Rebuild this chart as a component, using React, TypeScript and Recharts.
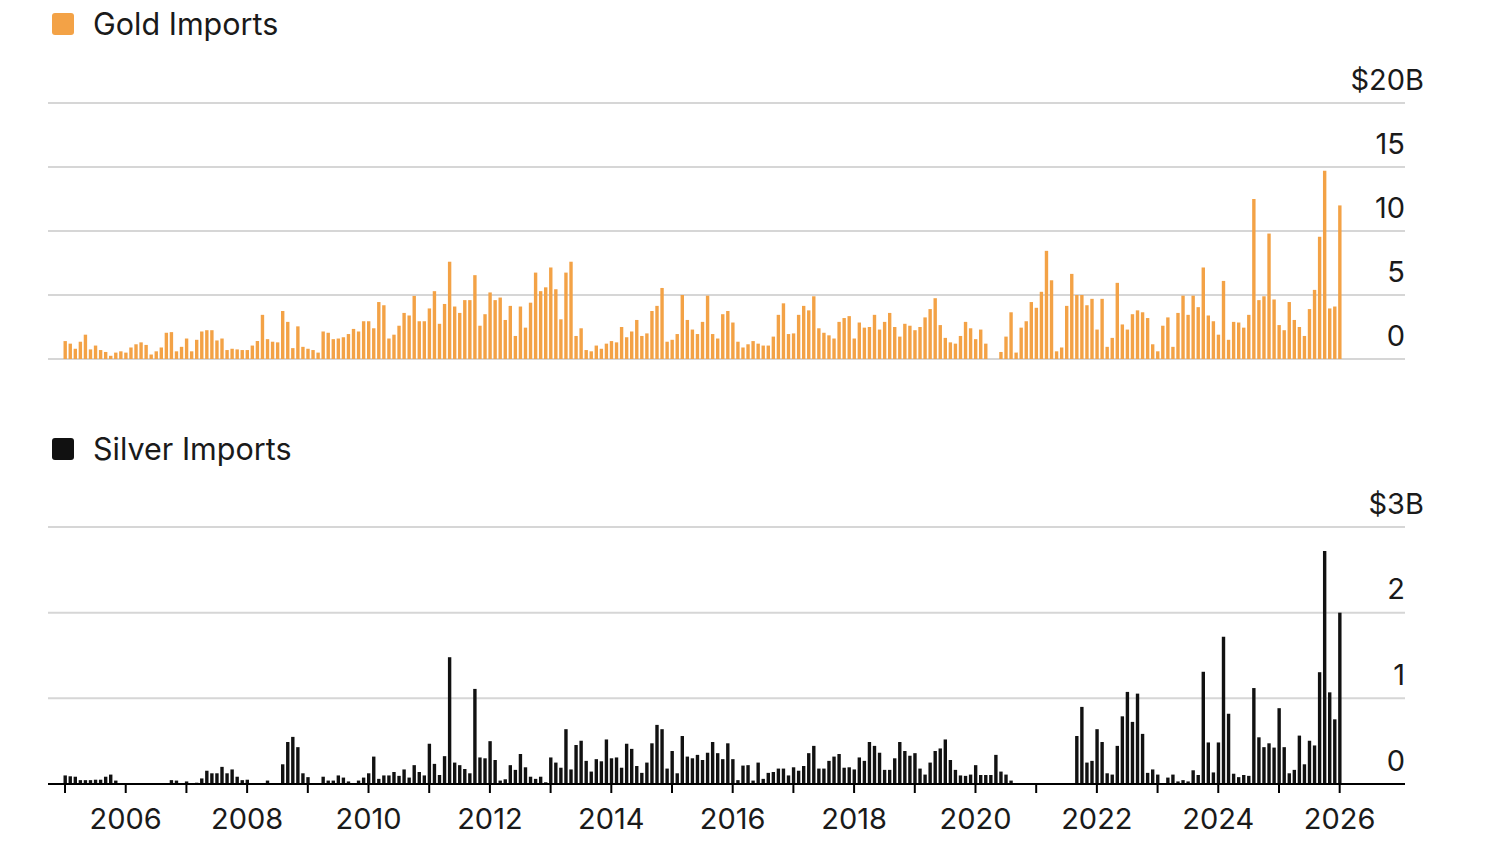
import { Bar, BarChart, CartesianGrid, XAxis, YAxis } from 'recharts';

const FONT = 'Inter, "Noto Sans", sans-serif';
const INK = '#1a1a1a';
const GOLD = '#f3a246';
const SILVER = '#111111';
const GRID = '#d6d6d6';

const years = [2005, 2006, 2007, 2008, 2009, 2010, 2011, 2012, 2013, 2014, 2015, 2016, 2017, 2018, 2019, 2020, 2021, 2022, 2023, 2024, 2025, 2026];
const monthNums = ['01', '02', '03', '04', '05', '06', '07', '08', '09', '10', '11', '12'];

// monthly imports, $ billions, Jan 2005 .. Jan 2026
const goldImports = [
  1.4, 1.2, 0.8, 1.35, 1.9, 0.75, 1.05, 0.7, 0.55, 0.25, 0.5, 0.6,
  0.5, 0.9, 1.15, 1.3, 1.1, 0.35, 0.6, 0.9, 2.05, 2.1, 0.6, 0.95,
  1.6, 0.6, 1.5, 2.15, 2.25, 2.25, 1.45, 1.6, 0.7, 0.8, 0.75, 0.7,
  0.7, 1.05, 1.4, 3.45, 1.55, 1.35, 1.3, 3.75, 2.9, 0.85, 2.55, 0.95,
  0.8, 0.7, 0.5, 2.15, 2.05, 1.55, 1.6, 1.7, 1.95, 2.35, 2.15, 2.95,
  2.95, 2.4, 4.45, 4.2, 1.6, 1.9, 2.6, 3.6, 3.4, 4.93, 2.95, 2.95,
  3.95, 5.3, 2.75, 4.3, 7.6, 4.1, 3.6, 4.6, 4.6, 6.55, 2.6, 3.5,
  5.2, 4.6, 4.8, 3.05, 4.15, 1.8, 4.1, 2.45, 4.4, 6.75, 5.3, 5.6,
  7.15, 5.45, 3.1, 6.75, 7.6, 1.8, 2.4, 0.7, 0.6, 1.05, 0.8, 1.2,
  1.4, 1.3, 2.5, 1.7, 2.15, 3.05, 1.8, 2.0, 3.75, 4.15, 5.55, 1.35,
  1.5, 1.95, 5.0, 3.05, 2.3, 1.95, 2.9, 4.95, 1.95, 1.6, 3.5, 3.75,
  2.85, 1.35, 0.9, 1.15, 1.4, 1.2, 1.05, 1.05, 1.75, 3.45, 4.35, 1.95,
  2.0, 3.45, 4.15, 3.8, 4.9, 2.4, 2.05, 1.85, 1.6, 2.9, 3.2, 3.35,
  1.6, 2.85, 2.45, 2.5, 3.45, 2.3, 2.9, 3.6, 2.5, 1.75, 2.75, 2.6,
  2.25, 2.5, 3.25, 3.9, 4.75, 2.65, 1.65, 1.3, 1.2, 1.8, 2.9, 2.4,
  1.55, 2.3, 1.2, 0, 0, 0.55, 1.75, 3.65, 0.5, 2.45, 2.95, 4.45,
  4.0, 5.25, 8.45, 6.15, 0.6, 0.9, 4.15, 6.65, 5.0, 5.0, 4.2, 4.7,
  2.3, 4.7, 0.95, 1.65, 5.95, 2.7, 2.3, 3.5, 3.8, 3.65, 3.2, 1.15,
  0.6, 2.6, 3.25, 0.95, 3.6, 4.95, 3.45, 4.95, 4.05, 7.15, 3.4, 2.95,
  1.9, 6.1, 1.5, 2.9, 2.85, 2.45, 3.45, 12.5, 4.6, 4.9, 9.8, 4.65,
  2.65, 2.25, 4.45, 3.05, 2.5, 1.8, 3.9, 5.4, 9.55, 14.7, 3.95, 4.1,
  12.0,
];

const silverImports = [
  0.1, 0.09, 0.085, 0.045, 0.045, 0.045, 0.05, 0.05, 0.085, 0.11, 0.04, 0,
  0, 0, 0, 0, 0, 0, 0, 0, 0.01, 0.045, 0.04, 0,
  0.03, 0, 0.015, 0.065, 0.155, 0.125, 0.125, 0.2, 0.125, 0.17, 0.085, 0.045,
  0.05, 0, 0, 0, 0.04, 0, 0, 0.23, 0.49, 0.55, 0.43, 0.125,
  0.08, 0, 0, 0.085, 0.04, 0.04, 0.1, 0.075, 0.03, 0, 0.04, 0.075,
  0.125, 0.32, 0.06, 0.1, 0.1, 0.14, 0.095, 0.17, 0.075, 0.22, 0.14, 0.1,
  0.47, 0.235, 0.105, 0.325, 1.48, 0.25, 0.22, 0.175, 0.125, 1.11, 0.31, 0.3,
  0.5, 0.28, 0.04, 0.055, 0.22, 0.165, 0.35, 0.195, 0.085, 0.06, 0.085, 0.02,
  0.31, 0.25, 0.19, 0.64, 0.17, 0.455, 0.505, 0.27, 0.145, 0.29, 0.265, 0.52,
  0.3, 0.31, 0.19, 0.47, 0.41, 0.21, 0.13, 0.25, 0.475, 0.69, 0.64, 0.18,
  0.385, 0.125, 0.56, 0.32, 0.3, 0.34, 0.28, 0.365, 0.49, 0.36, 0.29, 0.475,
  0.29, 0.045, 0.215, 0.22, 0.04, 0.25, 0.06, 0.13, 0.14, 0.18, 0.18, 0.1,
  0.195, 0.155, 0.21, 0.36, 0.445, 0.18, 0.18, 0.27, 0.32, 0.35, 0.19, 0.195,
  0.17, 0.31, 0.27, 0.49, 0.445, 0.365, 0.165, 0.165, 0.3, 0.49, 0.385, 0.33,
  0.36, 0.18, 0.11, 0.25, 0.385, 0.415, 0.52, 0.28, 0.165, 0.1, 0.095, 0.11,
  0.22, 0.105, 0.105, 0.105, 0.34, 0.145, 0.11, 0.04, 0, 0, 0, 0,
  0, 0, 0, 0, 0.01, 0.01, 0.01, 0.01, 0.56, 0.9, 0.25, 0.27,
  0.64, 0.49, 0.125, 0.11, 0.445, 0.79, 1.075, 0.725, 1.055, 0.585, 0.13, 0.17,
  0.11, 0, 0.075, 0.11, 0.03, 0.045, 0.03, 0.16, 0.105, 1.31, 0.485, 0.135,
  0.485, 1.72, 0.82, 0.12, 0.08, 0.105, 0.095, 1.12, 0.545, 0.43, 0.475, 0.425,
  0.885, 0.43, 0.125, 0.165, 0.565, 0.23, 0.505, 0.45, 1.305, 2.72, 1.07, 0.755,
  2.0,
];

const goldTicks = [0, 5, 10, 15, 20];
const silverTicks = [0, 1, 2, 3];
const yearLabels = [2006, 2008, 2010, 2012, 2014, 2016, 2018, 2020, 2022, 2024, 2026];

const months = years.flatMap((y) => monthNums.map((m) => `${y}-${m}`)).slice(0, goldImports.length);
const data = months.map((month, i) => ({ month, gold: goldImports[i], silver: silverImports[i] }));
const yearTicks = years.map((y) => `${y}-01`);

const xPadding = { left: 14.5, right: 62.8 };

const makeValueTick = (top: number) => (props: any) => {
  const { x, y, payload } = props;
  const isTop = payload.value === top;
  const common = { y: y - 24, fill: INK, fontSize: 29, fontFamily: FONT, dominantBaseline: 'central' as const };
  return (
    <g>
      <text x={x} textAnchor="end" {...common}>
        {isTop ? `$${payload.value}` : payload.value}
      </text>
      {isTop && (
        <text x={x} textAnchor="start" {...common}>
          B
        </text>
      )}
    </g>
  );
};

const Legend = ({ top, color, label }: { top: number; color: string; label: string }) => (
  <div style={{ position: 'absolute', left: 52, top, display: 'flex', alignItems: 'center', height: 22 }}>
    <div style={{ width: 22, height: 22, borderRadius: 3, background: color }} />
    <span style={{ marginLeft: 19, fontSize: 30.5, fontFamily: FONT, color: INK, lineHeight: '22px' }}>{label}</span>
  </div>
);

export default function App() {
  return (
    <div style={{ position: 'absolute', left: 0, top: 0, width: 1500, height: 850, background: '#fff' }}>
      <Legend top={13} color={GOLD} label="Gold Imports" />
      <div style={{ position: 'absolute', left: 0, top: 0 }}>
        <BarChart width={1500} height={380} data={data} margin={{ top: 103, right: 0, bottom: 21, left: 48 }}>
          <CartesianGrid vertical={false} stroke={GRID} strokeWidth={2} />
          <XAxis dataKey="month" hide padding={xPadding} />
          <YAxis
            orientation="right"
            width={95}
            domain={[0, 20]}
            ticks={goldTicks}
            axisLine={false}
            tickLine={false}
            tickSize={0}
            tickMargin={0}
            tick={makeValueTick(20)}
          />
          <Bar dataKey="gold" fill={GOLD} barSize={3.4} isAnimationActive={false} />
        </BarChart>
      </div>

      <Legend top={438} color={SILVER} label="Silver Imports" />
      <div style={{ position: 'absolute', left: 0, top: 425 }}>
        <BarChart width={1500} height={425} data={data} margin={{ top: 102, right: 0, bottom: 0, left: 48 }}>
          <CartesianGrid vertical={false} stroke={GRID} strokeWidth={2} />
          <XAxis
            dataKey="month"
            height={66}
            padding={xPadding}
            ticks={yearTicks}
            interval={0}
            axisLine={{ stroke: '#000', strokeWidth: 2 }}
            tickLine={{ stroke: '#000', strokeWidth: 2 }}
            tickSize={9}
            tickMargin={15}
            tick={{ fill: INK, fontSize: 29, fontFamily: FONT }}
            tickFormatter={(v: string) => {
              const yr = Number(v.slice(0, 4));
              return yearLabels.includes(yr) ? String(yr) : '';
            }}
          />
          <YAxis
            orientation="right"
            width={95}
            domain={[0, 3]}
            ticks={silverTicks}
            axisLine={false}
            tickLine={false}
            tickSize={0}
            tickMargin={0}
            tick={makeValueTick(3)}
          />
          <Bar dataKey="silver" fill={SILVER} barSize={3.4} isAnimationActive={false} />
        </BarChart>
      </div>
    </div>
  );
}
